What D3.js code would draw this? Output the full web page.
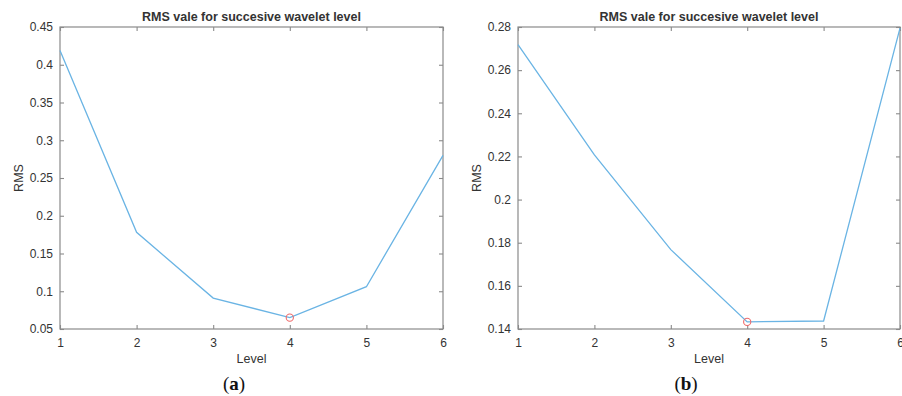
<!DOCTYPE html>
<html>
<head>
<meta charset="utf-8">
<script src="https://cdn.jsdelivr.net/npm/d3@7"></script>
<style>
  html, body { margin: 0; padding: 0; background: #fff; }
  svg { display: block; }
  text { font-family: "Liberation Sans", Arial, sans-serif; fill: #333; }
</style>
</head>
<body>
<svg id="chart" width="902" height="396"></svg>
<script>
// Wavelet decomposition levels
const levels = [1, 2, 3, 4, 5, 6];

// RMS per level, panel (a)
const rmsA = [0.419, 0.178, 0.091, 0.065, 0.106, 0.280];
const ticksA = [0.05, 0.1, 0.15, 0.2, 0.25, 0.3, 0.35, 0.4, 0.45];
const domainA = [0.05, 0.45];

// RMS per level, panel (b)
const rmsB = [0.2718, 0.2207, 0.1768, 0.1433, 0.1437, 0.2795];
const ticksB = [0.14, 0.16, 0.18, 0.2, 0.22, 0.24, 0.26, 0.28];
const domainB = [0.14, 0.28];

// Level with minimum RMS (marked with a circle)
const minLevel = 4;

const title = "RMS vale for succesive wavelet level";
const xLabel = "Level";
const yLabel = "RMS";

const svg = d3.select("#chart");

function panel(cfg) {
  const { left, right, top, bottom, values, ticks, domain, tag } = cfg;
  const g = svg.append("g");
  const x = d3.scaleLinear().domain([1, 6]).range([left, right]);
  const y = d3.scaleLinear().domain(domain).range([bottom, top]);
  const axisColor = "#8a8a8a";
  const tickLen = 4;

  // box
  g.append("rect")
    .attr("x", left).attr("y", top)
    .attr("width", right - left).attr("height", bottom - top)
    .attr("fill", "none").attr("stroke", axisColor).attr("stroke-width", 1.2);

  // bottom axis (ticks inward) and mirrored top ticks
  const xb = g.append("g").attr("transform", `translate(0,${bottom})`)
    .call(d3.axisBottom(x).tickValues(levels).tickFormat(d3.format("d"))
      .tickSizeInner(-tickLen).tickSizeOuter(0).tickPadding(9));
  const xt = g.append("g").attr("transform", `translate(0,${top})`)
    .call(d3.axisTop(x).tickValues(levels).tickFormat("")
      .tickSizeInner(-tickLen).tickSizeOuter(0));

  // left axis (ticks inward) and mirrored right ticks
  const yl = g.append("g").attr("transform", `translate(${left},0)`)
    .call(d3.axisLeft(y).tickValues(ticks).tickFormat(d => d3.format("")(+d.toFixed(2)))
      .tickSizeInner(-tickLen).tickSizeOuter(0).tickPadding(7));
  const yr = g.append("g").attr("transform", `translate(${right},0)`)
    .call(d3.axisRight(y).tickValues(ticks).tickFormat("")
      .tickSizeInner(-tickLen).tickSizeOuter(0));

  [xb, xt, yl, yr].forEach(a => {
    a.select(".domain").remove();
    a.selectAll(".tick line").attr("stroke", axisColor).attr("stroke-width", 1.1);
    a.selectAll(".tick text")
      .style("font-family", '"Liberation Sans", Arial, sans-serif')
      .style("font-size", "12px").attr("fill", "#333");
  });

  // data line
  const line = d3.line().x((d, i) => x(levels[i])).y(d => y(d));
  g.append("path").datum(values)
    .attr("d", line)
    .attr("fill", "none")
    .attr("stroke", "#6ab4e4")
    .attr("stroke-width", 1.3);

  // minimum marker
  const mi = levels.indexOf(minLevel);
  g.append("circle")
    .attr("cx", x(levels[mi])).attr("cy", y(values[mi]))
    .attr("r", 3.6)
    .attr("fill", "none").attr("stroke", "#ef6a6a").attr("stroke-width", 1.1);

  // title
  g.append("text")
    .attr("x", (left + right) / 2).attr("y", top - 6)
    .attr("text-anchor", "middle")
    .style("font-weight", "bold").style("font-size", "12.5px")
    .attr("fill", "#222")
    .text(title);

  // x label
  g.append("text")
    .attr("x", (left + right) / 2).attr("y", bottom + 34)
    .attr("text-anchor", "middle")
    .style("font-size", "12.5px")
    .text(xLabel);

  // y label
  g.append("text")
    .attr("transform", `translate(${left - 37},${(top + bottom) / 2}) rotate(-90)`)
    .attr("text-anchor", "middle")
    .style("font-size", "12.5px")
    .text(yLabel);

  // panel tag, e.g. (a)
  const t = g.append("text")
    .attr("x", cfg.tagX).attr("y", 390)
    .attr("text-anchor", "middle")
    .style("font-family", '"Liberation Serif", "DejaVu Serif", serif')
    .style("font-size", "19px")
    .attr("fill", "#111");
  t.append("tspan").text("(").style("fill", "#111");
  t.append("tspan").text(tag).style("font-weight", "bold").style("fill", "#111");
  t.append("tspan").text(")").style("fill", "#111");
}

panel({ left: 60, right: 443, top: 27, bottom: 329, values: rmsA, ticks: ticksA, domain: domainA, tag: "a", tagX: 234 });
panel({ left: 518, right: 900, top: 27, bottom: 329, values: rmsB, ticks: ticksB, domain: domainB, tag: "b", tagX: 686 });
</script>
</body>
</html>
